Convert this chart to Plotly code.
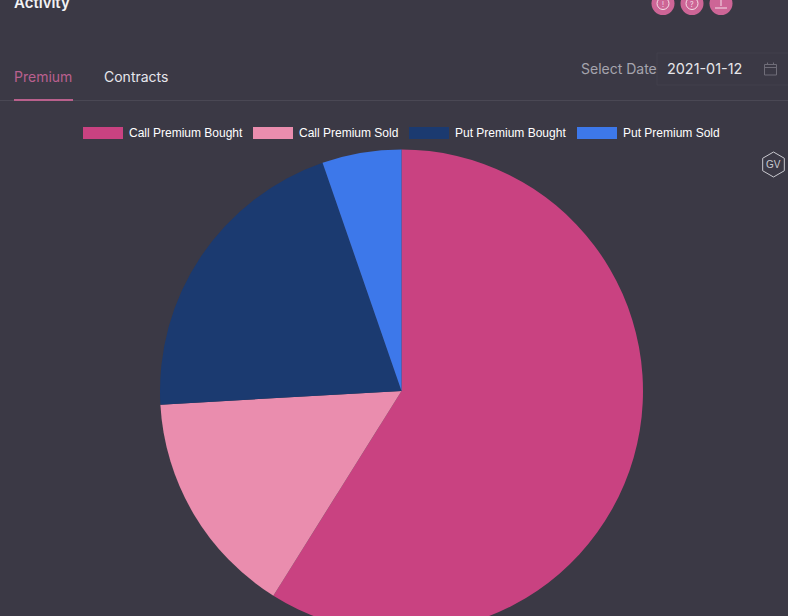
import math
import plotly.graph_objects as go

W, H = 788, 640
BG = "#3b3945"

categories = ["Call Premium Bought", "Call Premium Sold", "Put Premium Bought", "Put Premium Sold"]
values = [58.9, 15.2, 20.6, 5.3]
colors = ["#c94281", "#ea8dae", "#1b3a70", "#3d78ea"]
legend_x = [83, 253, 409, 577]
tabs = ["Premium", "Contracts"]
date_label = "Select Date"
date_value = "2021-01-12"
title = "Activity"
badge = "GV"


def px(x):
    return x / W


def py(y):
    return 1 - y / H


def rect(x0, y0, x1, y1, fill=None, line=None, lw=0):
    return dict(type="rect", xref="paper", yref="paper", x0=px(x0), x1=px(x1), y0=py(y0), y1=py(y1),
                fillcolor=fill or "rgba(0,0,0,0)", line=dict(color=line or "rgba(0,0,0,0)", width=lw), layer="above")


def seg(x0, y0, x1, y1, color, lw=1):
    return dict(type="line", xref="paper", yref="paper", x0=px(x0), x1=px(x1), y0=py(y0), y1=py(y1),
                line=dict(color=color, width=lw), layer="above")


def circle(cx, cy, r, fill=None, line=None, lw=0):
    return dict(type="circle", xref="paper", yref="paper", x0=px(cx - r), x1=px(cx + r), y0=py(cy - r), y1=py(cy + r),
                fillcolor=fill or "rgba(0,0,0,0)", line=dict(color=line or "rgba(0,0,0,0)", width=lw), layer="above")


def text(x, y, s, size, color, anchor="left", family="Inter, Arial, sans-serif", weight=None):
    return dict(xref="paper", yref="paper", x=px(x), y=py(y), text=s, showarrow=False, xanchor=anchor, yanchor="middle",
                align=anchor, borderpad=0, borderwidth=0, font=dict(size=size, color=color, family=family, weight=weight))


shapes, annotations = [], []

# page chrome
annotations.append(text(14, 3, title, 15, "#f2f2f4", weight=600))
annotations.append(text(14, 76, tabs[0], 14, "#b9608f"))
annotations.append(text(104, 76, tabs[1], 14, "#e6e6ec"))
shapes.append(seg(0, 100.5, 788, 100.5, "#4a4854"))
shapes.append(seg(14, 100, 73, 100, "#b9608c", 2))
annotations.append(text(581, 68.5, date_label, 14, "#a5a4ad"))
annotations.append(text(667, 68.5, date_value, 14.4, "#e6e6ea"))
shapes.append(rect(657, 53, 800, 85, None, "#42404c", 1))
shapes.append(rect(764.5, 64.5, 776.5, 75, None, "#6f6d78", 1))
shapes.append(seg(764.5, 67.5, 776.5, 67.5, "#6f6d78", 1))
shapes.append(seg(767.5, 62.5, 767.5, 65, "#6f6d78", 1))
shapes.append(seg(773.5, 62.5, 773.5, 65, "#6f6d78", 1))

# header buttons
for cx in (663, 692, 721):
    shapes.append(circle(cx, 3.5, 11.5, "#cd6596"))
for cx, mark in ((663, "!"), (692, "?")):
    shapes.append(circle(cx, 3.5, 6, None, "#f6dfe9", 1))
    annotations.append(text(cx, 4.5, mark, 7, "#f6dfe9", anchor="center"))
shapes.append(seg(715, 8, 727, 8, "#f6dfe9", 1))
shapes.append(seg(721, 0, 721, 6, "#f6dfe9", 1))

# GV badge
hx, hy, hr = 773.5, 164.5, 12.5
pts = [(hx + hr * math.sin(math.radians(a)), hy - hr * math.cos(math.radians(a))) for a in range(0, 360, 60)]
for i, p in enumerate(pts):
    q = pts[(i + 1) % 6]
    shapes.append(seg(p[0], p[1], q[0], q[1], "#c9c9cf", 1))
annotations.append(text(hx, hy, badge, 10, "#c9c9cf", anchor="center", family="Liberation Sans, Arial, sans-serif"))

# legend
for name, color, lx in zip(categories, colors, legend_x):
    shapes.append(rect(lx, 127, lx + 40, 139, color))
    annotations.append(text(lx + 46, 133, name, 12, "#ffffff", family="Liberation Sans, Arial, sans-serif"))

cx, cy, r = 401.5, 391, 241.5
fig = go.Figure(go.Pie(
    labels=categories,
    values=values,
    sort=False,
    direction="clockwise",
    rotation=0,
    textinfo="none",
    hoverinfo="label+percent",
    showlegend=False,
    marker=dict(colors=colors, line=dict(width=0)),
    domain=dict(x=[px(cx - r), px(cx + r)], y=[py(cy + r), py(cy - r)]),
))
fig.update_layout(
    width=W, height=H,
    autosize=False,
    margin=dict(l=0, r=0, t=0, b=0),
    paper_bgcolor=BG,
    plot_bgcolor=BG,
    shapes=shapes,
    annotations=annotations,
)
fig.write_html(
    "out.html",
    config=dict(displayModeBar=False),
    post_script="document.documentElement.style.overflow='hidden';document.documentElement.style.background='%s';"
                "document.body.style.margin='0';document.body.style.overflow='hidden';" % BG,
)
